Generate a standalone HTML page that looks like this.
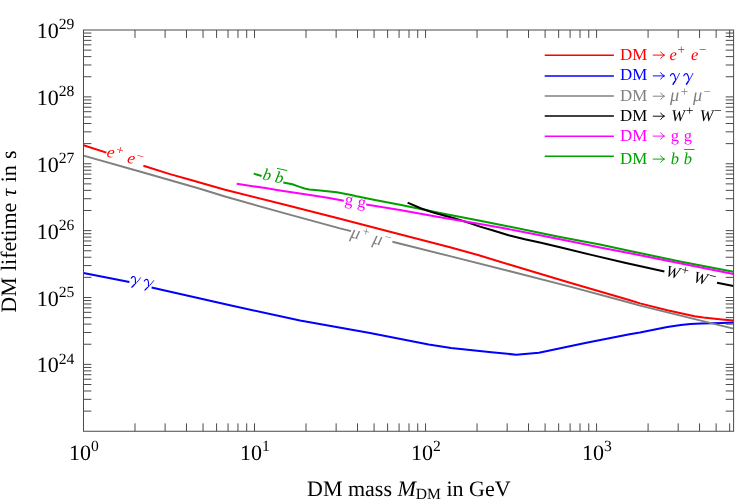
<!DOCTYPE html>
<html><head><meta charset="utf-8"><title>DM lifetime</title>
<style>
html,body{margin:0;padding:0;background:#fff;}
body{width:741px;height:504px;overflow:hidden;}
svg{display:block;will-change:transform;font-family:"Liberation Serif", serif;}
text{font-family:"Liberation Serif", serif;text-rendering:geometricPrecision;}
.it{font-style:italic;}
</style></head><body>
<svg width="741" height="504" viewBox="0 0 741 504">
<rect x="0" y="0" width="741" height="504" fill="#ffffff"/>
<g id="curves">
<polyline points="83.5,145.2 106.4,152.6" fill="none" stroke="#ff0000" stroke-width="2.00" stroke-linejoin="round" stroke-linecap="butt"/>
<polyline points="143.4,165.7 170.0,174.1 190.0,179.7 225.0,189.7 285.0,204.7 340.0,218.7 390.0,231.7 450.0,247.3 478.0,255.0 510.0,264.7 570.0,282.8 630.0,300.3 640.0,303.4 667.3,310.3 694.5,316.2 703.4,317.5 721.8,319.4 733.4,320.5" fill="none" stroke="#ff0000" stroke-width="2.00" stroke-linejoin="round" stroke-linecap="butt"/>
<polyline points="83.5,272.9 129.4,282.0" fill="none" stroke="#0000ff" stroke-width="2.00" stroke-linejoin="round" stroke-linecap="butt"/>
<polyline points="151.6,287.6 230.0,305.3 300.0,320.5 370.0,333.0 428.7,344.5 451.0,348.0 491.5,352.2 516.2,354.7 538.9,352.8 586.4,342.8 629.6,334.2 640.0,332.5 653.6,329.7 667.3,327.1 680.9,325.0 690.4,323.9 701.3,323.6 721.8,322.9 733.4,322.6" fill="none" stroke="#0000ff" stroke-width="2.00" stroke-linejoin="round" stroke-linecap="butt"/>
<polyline points="83.5,155.6 141.5,172.0 200.0,188.8 225.0,196.5 285.0,213.4 340.0,228.4 351.0,231.1" fill="none" stroke="#808080" stroke-width="2.00" stroke-linejoin="round" stroke-linecap="butt"/>
<polyline points="392.4,241.8 450.0,256.1 510.0,271.2 570.0,286.6 630.0,302.8 640.0,305.6 733.4,328.6" fill="none" stroke="#808080" stroke-width="2.00" stroke-linejoin="round" stroke-linecap="butt"/>
<polyline points="253.7,173.6 261.6,176.0" fill="none" stroke="#00a000" stroke-width="2.00" stroke-linejoin="round" stroke-linecap="butt"/>
<polyline points="283.3,182.4 292.3,184.3 298.9,186.6 304.6,188.5 309.3,189.5 317.8,190.2 327.2,191.2 336.7,192.3 350.0,194.7 356.6,196.2 375.0,199.9 400.0,204.7 440.0,212.9 480.0,220.8 500.0,224.7 560.0,236.9 600.0,244.6 630.0,251.0 680.0,261.4 733.4,271.8" fill="none" stroke="#00a000" stroke-width="2.00" stroke-linejoin="round" stroke-linecap="butt"/>
<polyline points="407.6,202.7 421.3,208.5 432.4,212.2 443.2,215.3 454.0,218.2 468.1,222.5 480.0,226.6 492.4,230.2 508.6,235.2 524.8,239.2 541.0,242.8 560.0,247.3 592.4,255.1 624.8,262.7 664.4,271.5" fill="none" stroke="#000000" stroke-width="2.00" stroke-linejoin="round" stroke-linecap="butt"/>
<polyline points="717.0,282.7 733.4,286.1" fill="none" stroke="#000000" stroke-width="2.00" stroke-linejoin="round" stroke-linecap="butt"/>
<polyline points="236.7,183.8 265.5,188.1 280.0,190.4 308.3,194.7 326.2,197.6 343.8,200.8" fill="none" stroke="#ff00ff" stroke-width="2.00" stroke-linejoin="round" stroke-linecap="butt"/>
<polyline points="366.2,204.6 400.0,210.1 440.0,217.3 480.0,224.1 500.0,227.4 540.0,235.3 580.0,243.3 600.0,247.4 630.0,253.2 733.4,274.1" fill="none" stroke="#ff00ff" stroke-width="2.00" stroke-linejoin="round" stroke-linecap="butt"/>
</g>
<g id="curvelabels">
<g transform="translate(124.5,157.7) rotate(16.2)"><text x="-18.20" y="3.80" font-size="16.5" font-style="italic" fill="#ff0000">e</text><text x="-10.20" y="-1.70" font-size="13.2" fill="#ff0000">+</text><text x="3.30" y="3.80" font-size="16.5" font-style="italic" fill="#ff0000">e</text><text x="11.20" y="-1.70" font-size="13.2" fill="#ff0000">−</text></g>
<g transform="translate(141.1,285.0) rotate(12.5)"><g transform="translate(-11.55,0.00)" fill="none" stroke="#0000ff" stroke-linecap="round" stroke-linejoin="round"><path d="M0.4,-4.5 C0.9,-6.3 2.3,-7.1 3.4,-6.5 C4.7,-5.7 5.3,-2.5 5.6,-0.3" stroke-width="1.15"/><path d="M9.5,-7.0 C8.0,-3.4 5.6,0.6 3.1,4.0" stroke-width="0.8"/><path d="M5.0,0.9 L3.1,3.9" stroke-width="1.35"/></g><g transform="translate(1.85,0.00)" fill="none" stroke="#0000ff" stroke-linecap="round" stroke-linejoin="round"><path d="M0.4,-4.5 C0.9,-6.3 2.3,-7.1 3.4,-6.5 C4.7,-5.7 5.3,-2.5 5.6,-0.3" stroke-width="1.15"/><path d="M9.5,-7.0 C8.0,-3.4 5.6,0.6 3.1,4.0" stroke-width="0.8"/><path d="M5.0,0.9 L3.1,3.9" stroke-width="1.35"/></g></g>
<g transform="translate(370.5,236.4) rotate(15.0)"><text x="-19.75" y="6.10" font-size="18.3" font-style="italic" fill="#808080">μ</text><text x="-9.15" y="0.70" font-size="13.2" fill="#808080">+</text><text x="3.25" y="6.10" font-size="18.3" font-style="italic" fill="#808080">μ</text><text x="13.55" y="0.70" font-size="13.2" fill="#808080">−</text></g>
<g transform="translate(689.5,276.9) rotate(12.0)"><text x="-24.20" y="4.20" font-size="16.5" font-style="italic" fill="#000000">W</text><text x="-9.30" y="-1.30" font-size="13.2" fill="#000000">+</text><text x="4.30" y="4.20" font-size="16.5" font-style="italic" fill="#000000">W</text><text x="18.80" y="-1.30" font-size="13.2" fill="#000000">−</text></g>
<g transform="translate(355.0,202.9) rotate(10.0)"><text x="-10.45" y="3.30" font-size="16.5" fill="#ff00ff">g</text><text x="2.55" y="3.30" font-size="16.5" fill="#ff00ff">g</text></g>
<g transform="translate(274.0,179.2) rotate(12.0)"><text x="-11.70" y="2.60" font-size="16.5" font-style="italic" fill="#00a000">b</text><text x="0.90" y="2.60" font-size="16.5" font-style="italic" fill="#00a000">b</text><line x1="0.70" y1="-11.20" x2="11.10" y2="-11.20" stroke="#00a000" stroke-width="0.9"/></g>
</g>
<g id="frame" stroke="#4a4a4a" stroke-width="1" fill="none" shape-rendering="auto">
<rect x="83.50" y="30.00" width="650.10" height="401.25"/>
<line x1="134.99" y1="431.25" x2="134.99" y2="423.35"/>
<line x1="134.99" y1="30.00" x2="134.99" y2="37.90"/>
<line x1="165.10" y1="431.25" x2="165.10" y2="423.35"/>
<line x1="165.10" y1="30.00" x2="165.10" y2="37.90"/>
<line x1="186.47" y1="431.25" x2="186.47" y2="423.35"/>
<line x1="186.47" y1="30.00" x2="186.47" y2="37.90"/>
<line x1="203.04" y1="431.25" x2="203.04" y2="423.35"/>
<line x1="203.04" y1="30.00" x2="203.04" y2="37.90"/>
<line x1="216.59" y1="431.25" x2="216.59" y2="423.35"/>
<line x1="216.59" y1="30.00" x2="216.59" y2="37.90"/>
<line x1="228.04" y1="431.25" x2="228.04" y2="423.35"/>
<line x1="228.04" y1="30.00" x2="228.04" y2="37.90"/>
<line x1="237.96" y1="431.25" x2="237.96" y2="423.35"/>
<line x1="237.96" y1="30.00" x2="237.96" y2="37.90"/>
<line x1="246.70" y1="431.25" x2="246.70" y2="423.35"/>
<line x1="246.70" y1="30.00" x2="246.70" y2="37.90"/>
<line x1="254.53" y1="431.25" x2="254.53" y2="423.35"/>
<line x1="254.53" y1="30.00" x2="254.53" y2="37.90"/>
<line x1="306.02" y1="431.25" x2="306.02" y2="423.35"/>
<line x1="306.02" y1="30.00" x2="306.02" y2="37.90"/>
<line x1="336.13" y1="431.25" x2="336.13" y2="423.35"/>
<line x1="336.13" y1="30.00" x2="336.13" y2="37.90"/>
<line x1="357.50" y1="431.25" x2="357.50" y2="423.35"/>
<line x1="357.50" y1="30.00" x2="357.50" y2="37.90"/>
<line x1="374.07" y1="431.25" x2="374.07" y2="423.35"/>
<line x1="374.07" y1="30.00" x2="374.07" y2="37.90"/>
<line x1="387.62" y1="431.25" x2="387.62" y2="423.35"/>
<line x1="387.62" y1="30.00" x2="387.62" y2="37.90"/>
<line x1="399.07" y1="431.25" x2="399.07" y2="423.35"/>
<line x1="399.07" y1="30.00" x2="399.07" y2="37.90"/>
<line x1="408.99" y1="431.25" x2="408.99" y2="423.35"/>
<line x1="408.99" y1="30.00" x2="408.99" y2="37.90"/>
<line x1="417.73" y1="431.25" x2="417.73" y2="423.35"/>
<line x1="417.73" y1="30.00" x2="417.73" y2="37.90"/>
<line x1="425.56" y1="431.25" x2="425.56" y2="423.35"/>
<line x1="425.56" y1="30.00" x2="425.56" y2="37.90"/>
<line x1="477.05" y1="431.25" x2="477.05" y2="423.35"/>
<line x1="477.05" y1="30.00" x2="477.05" y2="37.90"/>
<line x1="507.16" y1="431.25" x2="507.16" y2="423.35"/>
<line x1="507.16" y1="30.00" x2="507.16" y2="37.90"/>
<line x1="528.53" y1="431.25" x2="528.53" y2="423.35"/>
<line x1="528.53" y1="30.00" x2="528.53" y2="37.90"/>
<line x1="545.10" y1="431.25" x2="545.10" y2="423.35"/>
<line x1="545.10" y1="30.00" x2="545.10" y2="37.90"/>
<line x1="558.65" y1="431.25" x2="558.65" y2="423.35"/>
<line x1="558.65" y1="30.00" x2="558.65" y2="37.90"/>
<line x1="570.10" y1="431.25" x2="570.10" y2="423.35"/>
<line x1="570.10" y1="30.00" x2="570.10" y2="37.90"/>
<line x1="580.02" y1="431.25" x2="580.02" y2="423.35"/>
<line x1="580.02" y1="30.00" x2="580.02" y2="37.90"/>
<line x1="588.76" y1="431.25" x2="588.76" y2="423.35"/>
<line x1="588.76" y1="30.00" x2="588.76" y2="37.90"/>
<line x1="596.59" y1="431.25" x2="596.59" y2="423.35"/>
<line x1="596.59" y1="30.00" x2="596.59" y2="37.90"/>
<line x1="648.08" y1="431.25" x2="648.08" y2="423.35"/>
<line x1="648.08" y1="30.00" x2="648.08" y2="37.90"/>
<line x1="678.19" y1="431.25" x2="678.19" y2="423.35"/>
<line x1="678.19" y1="30.00" x2="678.19" y2="37.90"/>
<line x1="699.56" y1="431.25" x2="699.56" y2="423.35"/>
<line x1="699.56" y1="30.00" x2="699.56" y2="37.90"/>
<line x1="716.13" y1="431.25" x2="716.13" y2="423.35"/>
<line x1="716.13" y1="30.00" x2="716.13" y2="37.90"/>
<line x1="729.68" y1="431.25" x2="729.68" y2="423.35"/>
<line x1="729.68" y1="30.00" x2="729.68" y2="37.90"/>
<line x1="83.50" y1="411.12" x2="91.40" y2="411.12"/>
<line x1="733.60" y1="411.12" x2="725.70" y2="411.12"/>
<line x1="83.50" y1="399.34" x2="91.40" y2="399.34"/>
<line x1="733.60" y1="399.34" x2="725.70" y2="399.34"/>
<line x1="83.50" y1="390.99" x2="91.40" y2="390.99"/>
<line x1="733.60" y1="390.99" x2="725.70" y2="390.99"/>
<line x1="83.50" y1="384.51" x2="91.40" y2="384.51"/>
<line x1="733.60" y1="384.51" x2="725.70" y2="384.51"/>
<line x1="83.50" y1="379.21" x2="91.40" y2="379.21"/>
<line x1="733.60" y1="379.21" x2="725.70" y2="379.21"/>
<line x1="83.50" y1="374.73" x2="91.40" y2="374.73"/>
<line x1="733.60" y1="374.73" x2="725.70" y2="374.73"/>
<line x1="83.50" y1="370.86" x2="91.40" y2="370.86"/>
<line x1="733.60" y1="370.86" x2="725.70" y2="370.86"/>
<line x1="83.50" y1="367.44" x2="91.40" y2="367.44"/>
<line x1="733.60" y1="367.44" x2="725.70" y2="367.44"/>
<line x1="83.50" y1="364.38" x2="91.40" y2="364.38"/>
<line x1="733.60" y1="364.38" x2="725.70" y2="364.38"/>
<line x1="83.50" y1="344.24" x2="91.40" y2="344.24"/>
<line x1="733.60" y1="344.24" x2="725.70" y2="344.24"/>
<line x1="83.50" y1="332.47" x2="91.40" y2="332.47"/>
<line x1="733.60" y1="332.47" x2="725.70" y2="332.47"/>
<line x1="83.50" y1="324.11" x2="91.40" y2="324.11"/>
<line x1="733.60" y1="324.11" x2="725.70" y2="324.11"/>
<line x1="83.50" y1="317.63" x2="91.40" y2="317.63"/>
<line x1="733.60" y1="317.63" x2="725.70" y2="317.63"/>
<line x1="83.50" y1="312.34" x2="91.40" y2="312.34"/>
<line x1="733.60" y1="312.34" x2="725.70" y2="312.34"/>
<line x1="83.50" y1="307.86" x2="91.40" y2="307.86"/>
<line x1="733.60" y1="307.86" x2="725.70" y2="307.86"/>
<line x1="83.50" y1="303.98" x2="91.40" y2="303.98"/>
<line x1="733.60" y1="303.98" x2="725.70" y2="303.98"/>
<line x1="83.50" y1="300.56" x2="91.40" y2="300.56"/>
<line x1="733.60" y1="300.56" x2="725.70" y2="300.56"/>
<line x1="83.50" y1="297.50" x2="91.40" y2="297.50"/>
<line x1="733.60" y1="297.50" x2="725.70" y2="297.50"/>
<line x1="83.50" y1="277.37" x2="91.40" y2="277.37"/>
<line x1="733.60" y1="277.37" x2="725.70" y2="277.37"/>
<line x1="83.50" y1="265.59" x2="91.40" y2="265.59"/>
<line x1="733.60" y1="265.59" x2="725.70" y2="265.59"/>
<line x1="83.50" y1="257.24" x2="91.40" y2="257.24"/>
<line x1="733.60" y1="257.24" x2="725.70" y2="257.24"/>
<line x1="83.50" y1="250.76" x2="91.40" y2="250.76"/>
<line x1="733.60" y1="250.76" x2="725.70" y2="250.76"/>
<line x1="83.50" y1="245.46" x2="91.40" y2="245.46"/>
<line x1="733.60" y1="245.46" x2="725.70" y2="245.46"/>
<line x1="83.50" y1="240.98" x2="91.40" y2="240.98"/>
<line x1="733.60" y1="240.98" x2="725.70" y2="240.98"/>
<line x1="83.50" y1="237.11" x2="91.40" y2="237.11"/>
<line x1="733.60" y1="237.11" x2="725.70" y2="237.11"/>
<line x1="83.50" y1="233.69" x2="91.40" y2="233.69"/>
<line x1="733.60" y1="233.69" x2="725.70" y2="233.69"/>
<line x1="83.50" y1="230.62" x2="91.40" y2="230.62"/>
<line x1="733.60" y1="230.62" x2="725.70" y2="230.62"/>
<line x1="83.50" y1="210.49" x2="91.40" y2="210.49"/>
<line x1="733.60" y1="210.49" x2="725.70" y2="210.49"/>
<line x1="83.50" y1="198.72" x2="91.40" y2="198.72"/>
<line x1="733.60" y1="198.72" x2="725.70" y2="198.72"/>
<line x1="83.50" y1="190.36" x2="91.40" y2="190.36"/>
<line x1="733.60" y1="190.36" x2="725.70" y2="190.36"/>
<line x1="83.50" y1="183.88" x2="91.40" y2="183.88"/>
<line x1="733.60" y1="183.88" x2="725.70" y2="183.88"/>
<line x1="83.50" y1="178.59" x2="91.40" y2="178.59"/>
<line x1="733.60" y1="178.59" x2="725.70" y2="178.59"/>
<line x1="83.50" y1="174.11" x2="91.40" y2="174.11"/>
<line x1="733.60" y1="174.11" x2="725.70" y2="174.11"/>
<line x1="83.50" y1="170.23" x2="91.40" y2="170.23"/>
<line x1="733.60" y1="170.23" x2="725.70" y2="170.23"/>
<line x1="83.50" y1="166.81" x2="91.40" y2="166.81"/>
<line x1="733.60" y1="166.81" x2="725.70" y2="166.81"/>
<line x1="83.50" y1="163.75" x2="91.40" y2="163.75"/>
<line x1="733.60" y1="163.75" x2="725.70" y2="163.75"/>
<line x1="83.50" y1="143.62" x2="91.40" y2="143.62"/>
<line x1="733.60" y1="143.62" x2="725.70" y2="143.62"/>
<line x1="83.50" y1="131.84" x2="91.40" y2="131.84"/>
<line x1="733.60" y1="131.84" x2="725.70" y2="131.84"/>
<line x1="83.50" y1="123.49" x2="91.40" y2="123.49"/>
<line x1="733.60" y1="123.49" x2="725.70" y2="123.49"/>
<line x1="83.50" y1="117.01" x2="91.40" y2="117.01"/>
<line x1="733.60" y1="117.01" x2="725.70" y2="117.01"/>
<line x1="83.50" y1="111.71" x2="91.40" y2="111.71"/>
<line x1="733.60" y1="111.71" x2="725.70" y2="111.71"/>
<line x1="83.50" y1="107.23" x2="91.40" y2="107.23"/>
<line x1="733.60" y1="107.23" x2="725.70" y2="107.23"/>
<line x1="83.50" y1="103.36" x2="91.40" y2="103.36"/>
<line x1="733.60" y1="103.36" x2="725.70" y2="103.36"/>
<line x1="83.50" y1="99.94" x2="91.40" y2="99.94"/>
<line x1="733.60" y1="99.94" x2="725.70" y2="99.94"/>
<line x1="83.50" y1="96.88" x2="91.40" y2="96.88"/>
<line x1="733.60" y1="96.88" x2="725.70" y2="96.88"/>
<line x1="83.50" y1="76.74" x2="91.40" y2="76.74"/>
<line x1="733.60" y1="76.74" x2="725.70" y2="76.74"/>
<line x1="83.50" y1="64.97" x2="91.40" y2="64.97"/>
<line x1="733.60" y1="64.97" x2="725.70" y2="64.97"/>
<line x1="83.50" y1="56.61" x2="91.40" y2="56.61"/>
<line x1="733.60" y1="56.61" x2="725.70" y2="56.61"/>
<line x1="83.50" y1="50.13" x2="91.40" y2="50.13"/>
<line x1="733.60" y1="50.13" x2="725.70" y2="50.13"/>
<line x1="83.50" y1="44.84" x2="91.40" y2="44.84"/>
<line x1="733.60" y1="44.84" x2="725.70" y2="44.84"/>
<line x1="83.50" y1="40.36" x2="91.40" y2="40.36"/>
<line x1="733.60" y1="40.36" x2="725.70" y2="40.36"/>
<line x1="83.50" y1="36.48" x2="91.40" y2="36.48"/>
<line x1="733.60" y1="36.48" x2="725.70" y2="36.48"/>
<line x1="83.50" y1="33.06" x2="91.40" y2="33.06"/>
<line x1="733.60" y1="33.06" x2="725.70" y2="33.06"/>
</g>
<g id="ticklabels" fill="#000">
<text x="83.80" y="459.70" text-anchor="middle" font-size="22">10<tspan dy="-8.7" font-size="15.6">0</tspan></text>
<text x="254.83" y="459.70" text-anchor="middle" font-size="22">10<tspan dy="-8.7" font-size="15.6">1</tspan></text>
<text x="425.86" y="459.70" text-anchor="middle" font-size="22">10<tspan dy="-8.7" font-size="15.6">2</tspan></text>
<text x="596.89" y="459.70" text-anchor="middle" font-size="22">10<tspan dy="-8.7" font-size="15.6">3</tspan></text>
<text x="74.30" y="372.38" text-anchor="end" font-size="22">10<tspan dy="-8.7" font-size="15.6">24</tspan></text>
<text x="74.30" y="305.50" text-anchor="end" font-size="22">10<tspan dy="-8.7" font-size="15.6">25</tspan></text>
<text x="74.30" y="238.62" text-anchor="end" font-size="22">10<tspan dy="-8.7" font-size="15.6">26</tspan></text>
<text x="74.30" y="171.75" text-anchor="end" font-size="22">10<tspan dy="-8.7" font-size="15.6">27</tspan></text>
<text x="74.30" y="104.88" text-anchor="end" font-size="22">10<tspan dy="-8.7" font-size="15.6">28</tspan></text>
<text x="74.30" y="38.00" text-anchor="end" font-size="22">10<tspan dy="-8.7" font-size="15.6">29</tspan></text>
</g>
<g id="axislabels" fill="#000">
<text x="408.8" y="495.9" text-anchor="middle" font-size="22">DM mass <tspan class="it">M</tspan><tspan dy="3" font-size="15.6">DM</tspan><tspan dy="-3"> in GeV</tspan></text>
<g transform="translate(16.4,231.6) rotate(-90)"><text x="0" y="0" text-anchor="middle" font-size="22" word-spacing="0.7">DM lifetime <tspan class="it">τ</tspan> in s</text></g>
</g>
<g id="legend">
<line x1="544.7" y1="55.35" x2="613.9" y2="55.35" stroke="#ff0000" stroke-width="1.5"/>
<text x="620.0" y="59.50" font-size="16.9" fill="#ff0000">DM</text>
<path d="M652.8,55.10 H664.0" fill="none" stroke="#ff0000" stroke-width="0.95" stroke-linecap="butt"/>
<path d="M660.7,51.90 Q662.0,54.20 664.7,55.10 Q662.0,56.00 660.7,58.30" fill="none" stroke="#ff0000" stroke-width="0.95" stroke-linecap="round" stroke-linejoin="round"/>
<text x="669.60" y="59.50" font-size="16.5" font-style="italic" fill="#ff0000">e</text><text x="677.60" y="54.00" font-size="13.2" fill="#ff0000">+</text><text x="691.10" y="59.50" font-size="16.5" font-style="italic" fill="#ff0000">e</text><text x="699.00" y="54.00" font-size="13.2" fill="#ff0000">−</text>
<line x1="544.7" y1="75.90" x2="613.9" y2="75.90" stroke="#0000ff" stroke-width="1.5"/>
<text x="620.0" y="80.30" font-size="16.9" fill="#0000ff">DM</text>
<path d="M652.8,75.90 H664.0" fill="none" stroke="#0000ff" stroke-width="0.95" stroke-linecap="butt"/>
<path d="M660.7,72.70 Q662.0,75.00 664.7,75.90 Q662.0,76.80 660.7,79.10" fill="none" stroke="#0000ff" stroke-width="0.95" stroke-linecap="round" stroke-linejoin="round"/>
<g transform="translate(670.00,80.30)" fill="none" stroke="#0000ff" stroke-linecap="round" stroke-linejoin="round"><path d="M0.4,-4.5 C0.9,-6.3 2.3,-7.1 3.4,-6.5 C4.7,-5.7 5.3,-2.5 5.6,-0.3" stroke-width="1.15"/><path d="M9.5,-7.0 C8.0,-3.4 5.6,0.6 3.1,4.0" stroke-width="0.8"/><path d="M5.0,0.9 L3.1,3.9" stroke-width="1.35"/></g><g transform="translate(683.40,80.30)" fill="none" stroke="#0000ff" stroke-linecap="round" stroke-linejoin="round"><path d="M0.4,-4.5 C0.9,-6.3 2.3,-7.1 3.4,-6.5 C4.7,-5.7 5.3,-2.5 5.6,-0.3" stroke-width="1.15"/><path d="M9.5,-7.0 C8.0,-3.4 5.6,0.6 3.1,4.0" stroke-width="0.8"/><path d="M5.0,0.9 L3.1,3.9" stroke-width="1.35"/></g>
<line x1="544.7" y1="96.00" x2="613.9" y2="96.00" stroke="#808080" stroke-width="1.5"/>
<text x="620.0" y="100.60" font-size="16.9" fill="#808080">DM</text>
<path d="M652.8,96.20 H664.0" fill="none" stroke="#808080" stroke-width="0.95" stroke-linecap="butt"/>
<path d="M660.7,93.00 Q662.0,95.30 664.7,96.20 Q662.0,97.10 660.7,99.40" fill="none" stroke="#808080" stroke-width="0.95" stroke-linecap="round" stroke-linejoin="round"/>
<text x="670.10" y="100.60" font-size="18.3" font-style="italic" fill="#808080">μ</text><text x="680.70" y="96.10" font-size="13.2" fill="#808080">+</text><text x="693.10" y="100.60" font-size="18.3" font-style="italic" fill="#808080">μ</text><text x="703.40" y="96.10" font-size="13.2" fill="#808080">−</text>
<line x1="544.7" y1="116.10" x2="613.9" y2="116.10" stroke="#000000" stroke-width="1.5"/>
<text x="620.0" y="120.60" font-size="16.9" fill="#000000">DM</text>
<path d="M652.8,116.20 H664.0" fill="none" stroke="#000000" stroke-width="0.95" stroke-linecap="butt"/>
<path d="M660.7,113.00 Q662.0,115.30 664.7,116.20 Q662.0,117.10 660.7,119.40" fill="none" stroke="#000000" stroke-width="0.95" stroke-linecap="round" stroke-linejoin="round"/>
<text x="671.20" y="120.60" font-size="16.5" font-style="italic" fill="#000000">W</text><text x="686.10" y="115.10" font-size="13.2" fill="#000000">+</text><text x="699.70" y="120.60" font-size="16.5" font-style="italic" fill="#000000">W</text><text x="714.20" y="115.10" font-size="13.2" fill="#000000">−</text>
<line x1="544.7" y1="136.30" x2="613.9" y2="136.30" stroke="#ff00ff" stroke-width="1.5"/>
<text x="620.0" y="140.50" font-size="16.9" fill="#ff00ff">DM</text>
<path d="M652.8,136.10 H664.0" fill="none" stroke="#ff00ff" stroke-width="0.95" stroke-linecap="butt"/>
<path d="M660.7,132.90 Q662.0,135.20 664.7,136.10 Q662.0,137.00 660.7,139.30" fill="none" stroke="#ff00ff" stroke-width="0.95" stroke-linecap="round" stroke-linejoin="round"/>
<text x="670.80" y="140.50" font-size="16.5" fill="#ff00ff">g</text><text x="683.80" y="140.50" font-size="16.5" fill="#ff00ff">g</text>
<line x1="544.7" y1="156.20" x2="613.9" y2="156.20" stroke="#00a000" stroke-width="1.5"/>
<text x="620.0" y="163.50" font-size="16.9" fill="#00a000">DM</text>
<path d="M652.8,159.10 H664.0" fill="none" stroke="#00a000" stroke-width="0.95" stroke-linecap="butt"/>
<path d="M660.7,155.90 Q662.0,158.20 664.7,159.10 Q662.0,160.00 660.7,162.30" fill="none" stroke="#00a000" stroke-width="0.95" stroke-linecap="round" stroke-linejoin="round"/>
<text x="670.80" y="163.50" font-size="16.5" font-style="italic" fill="#00a000">b</text><text x="683.80" y="163.50" font-size="16.5" font-style="italic" fill="#00a000">b</text><line x1="684.10" y1="149.50" x2="694.60" y2="149.50" stroke="#00a000" stroke-width="0.9"/>
</g>
</svg>
</body></html>
